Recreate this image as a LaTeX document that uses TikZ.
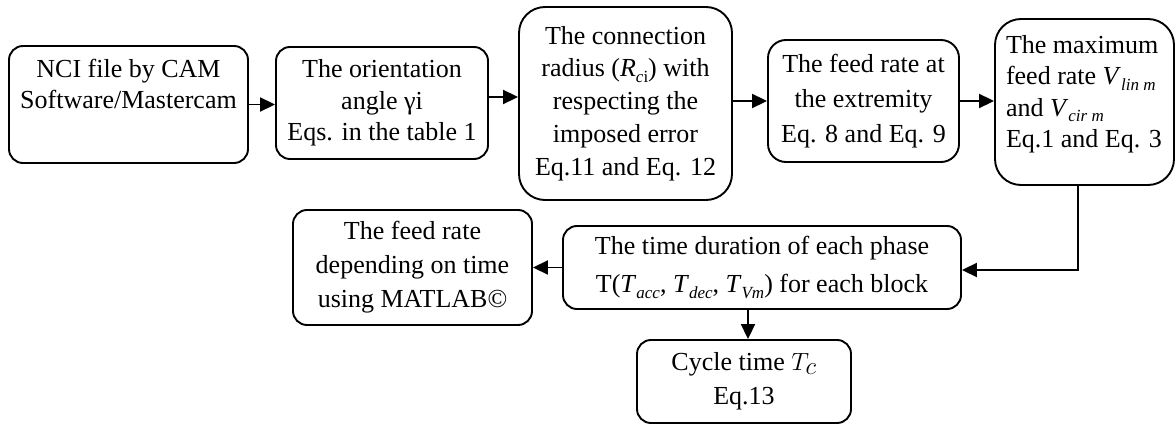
\documentclass[tikz,border=0pt]{standalone}
\usepackage{fontspec}
\setmainfont{Liberation Serif}
\usetikzlibrary{arrows.meta,calc}
\newcommand{\sbs}[1]{\raisebox{-0.22em}{\fontsize{17}{17}\selectfont #1}}
\tikzset{
  box/.style={draw, line width=1.9pt, rounded corners=14pt, inner sep=0pt,
    align=center, font=\fontsize{26}{31.5}\selectfont},
  arr/.style={line width=1.9pt, -{Triangle[length=15pt,width=14pt]}},
}
\begin{document}
\begin{tikzpicture}[x=1pt,y=-1pt]
\useasboundingbox (0,0) rectangle (1176,425);
\node[box, minimum width=239pt, minimum height=117pt] (b1) at (128.5,104.5)
  {NCI file by CAM\\Software/Mastercam\\\strut};
\node[box, minimum width=212pt, minimum height=112pt] (b2) at (382,103)
  {The orientation\\angle γi\\Eqs. in the table 1};
\node[box, rounded corners=26pt, minimum width=213pt, minimum height=193pt,
  font=\fontsize{26}{32.8}\selectfont] (b3) at (625.5,103.5)
  {The connection\\radius (\textit{R}\sbs{\textit{c}i}) with\\respecting the\\imposed error\\Eq.11 and Eq. 12};
\node[box, rounded corners=18pt, minimum width=191pt, minimum height=122pt,
  font=\fontsize{26}{35}\selectfont] (b4) at (863.5,101)
  {The feed rate at\\the extremity\\Eq. 8 and Eq. 9};
\node[box, rounded corners=26pt, inner xsep=11pt, inner ysep=0pt,
  minimum width=179pt, minimum height=166pt] (b5) at (1084.5,102)
  {\parbox[c][166pt][t]{157pt}{\raggedright\vspace*{16pt}The maximum\\
   feed rate \textit{V}\sbs{\textit{lin m}}\\
   and \textit{V}\sbs{\textit{cir m}}\\
   Eq.1 and Eq. 3}};
\node[box, minimum width=398pt, minimum height=83pt,
  font=\fontsize{26}{38}\selectfont] (b6) at (762,267.5)
  {The time duration of each phase\\T(\textit{T}\sbs{\textit{acc}}, \textit{T}\sbs{\textit{dec}}, \textit{T}\sbs{\textit{Vm}}) for each block};
\node[box, minimum width=239pt, minimum height=115pt,
  font=\fontsize{26}{34}\selectfont] (b7) at (412.5,267.5)
  {The feed rate\\depending on time\\using MATLAB©};
\node[box, minimum width=214pt, minimum height=83pt,
  font=\fontsize{26}{34}\selectfont] (b8) at (744,381.5)
  {Cycle time {\fontsize{34}{34}\selectfont$T_c$}\\Eq.13};
\draw[arr] (b1.east) -- (b1.east -| b2.west);
\draw[arr] ([yshift=6pt]b2.east) -- ([yshift=6pt]b2.east -| b3.west);
\draw[arr] (b4.west -| b3.east) -- (b4.west);
\draw[arr] (b4.east) -- (b4.east -| b5.west);
\draw[arr] ([xshift=-6.5pt]b5.south) |- ([yshift=-2.5pt]b6.east);
\draw[arr] (b6.west) -- (b6.west -| b7.east);
\draw[arr] ([xshift=4pt]b8.north |- b6.south) -- ([xshift=4pt]b8.north);
\end{tikzpicture}
\end{document}
